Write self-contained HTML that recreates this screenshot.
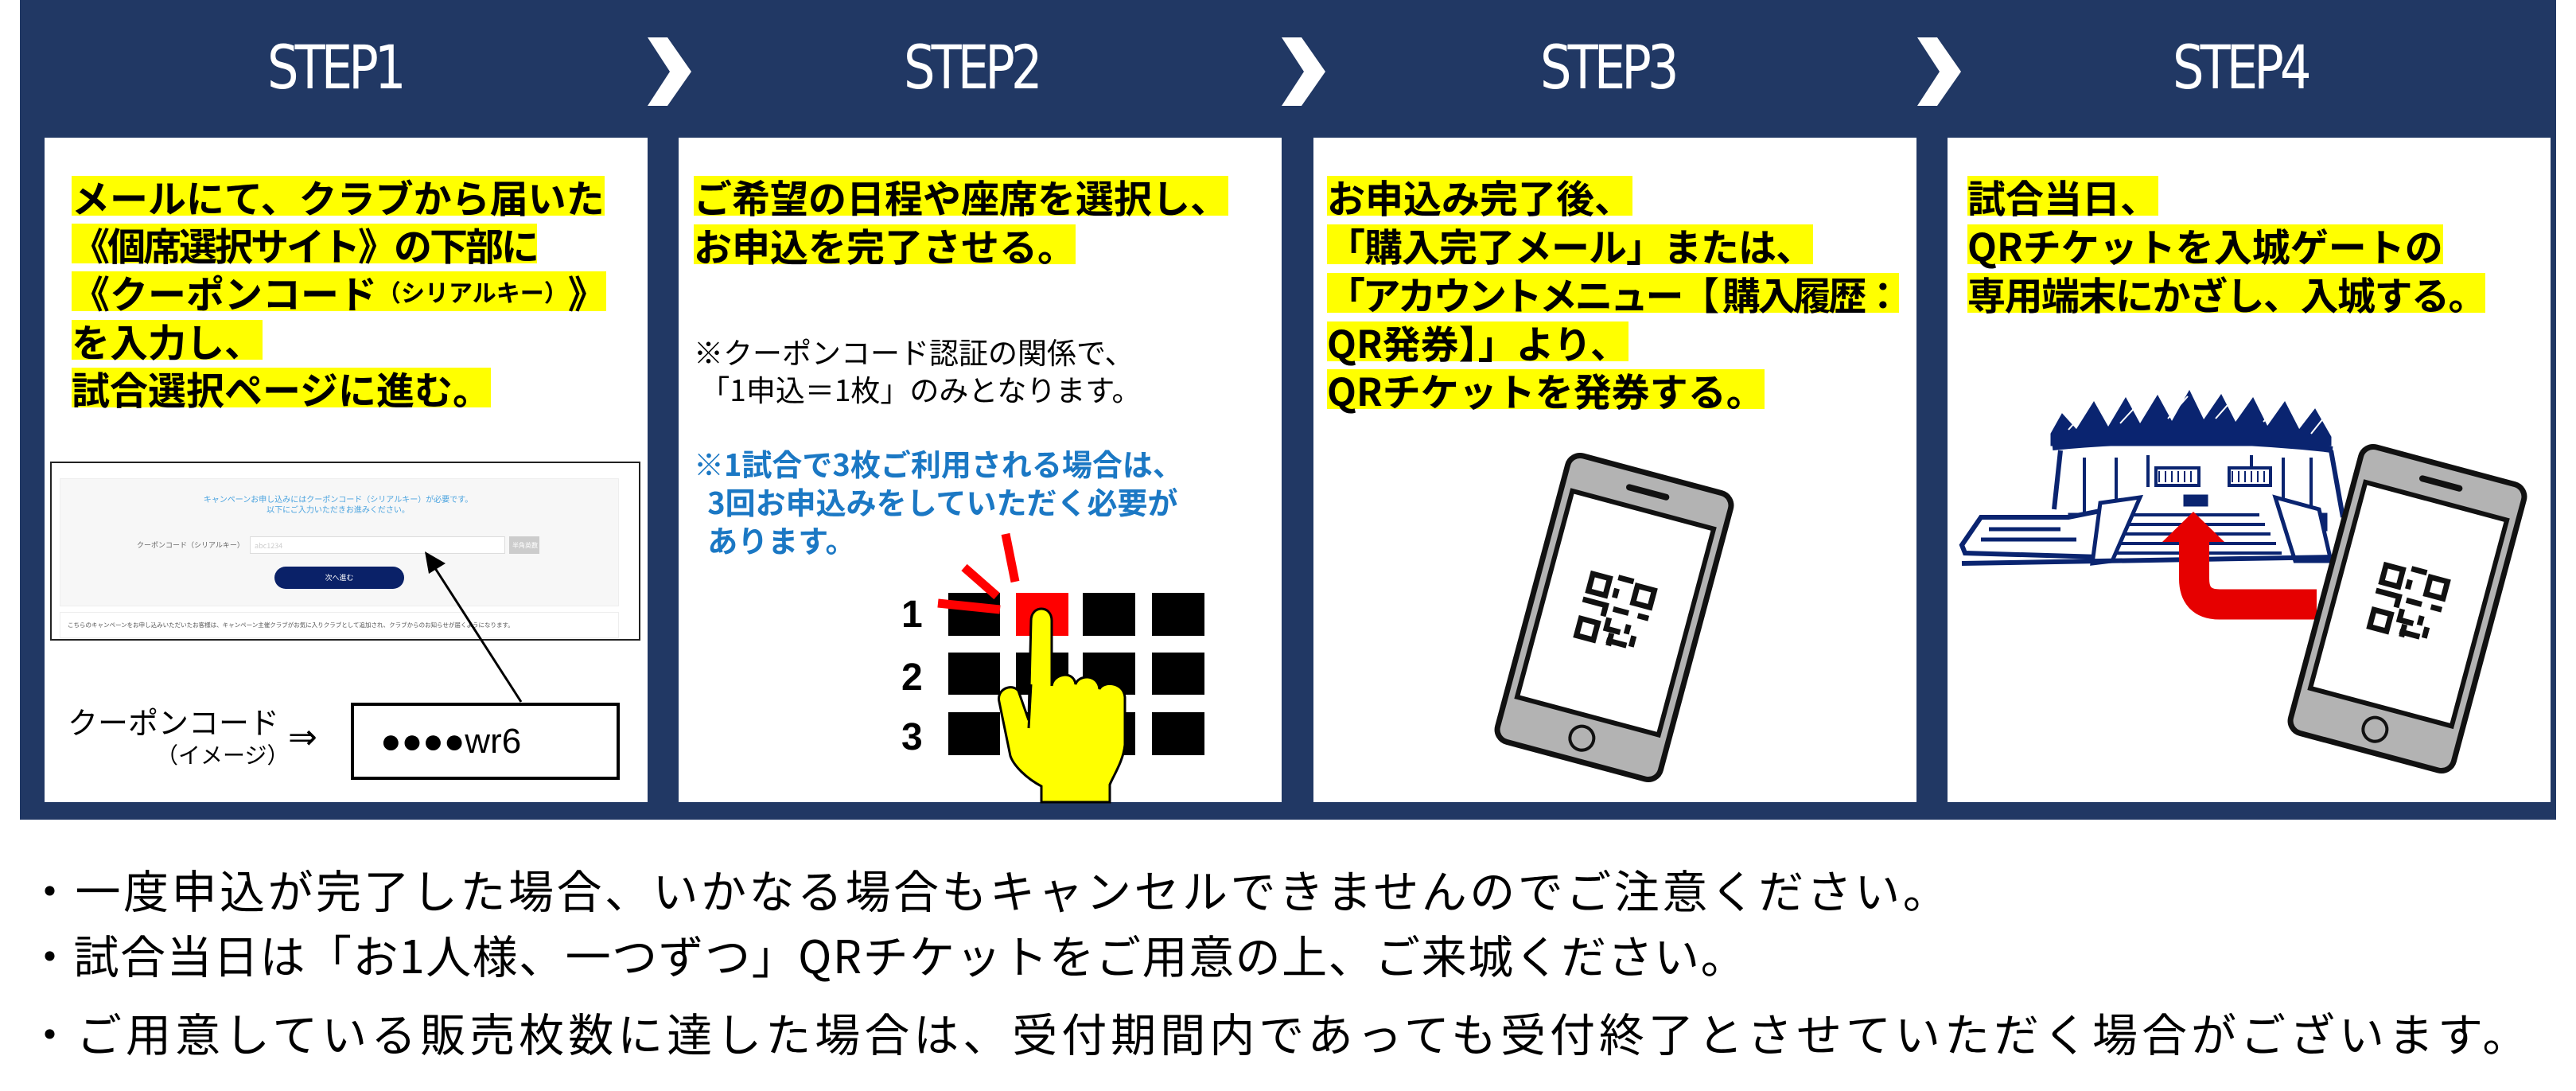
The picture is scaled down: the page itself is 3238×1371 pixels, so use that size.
<!DOCTYPE html>
<html><head><meta charset="utf-8">
<style>
*{margin:0;padding:0;box-sizing:border-box}
html,body{width:3238px;height:1371px;overflow:hidden;background:#fff}
body{position:relative;font-family:"Liberation Sans","Noto Sans CJK JP",sans-serif}
.navy{position:absolute;left:25px;top:0;width:3188px;height:1030px;background:#213864}
.panel{position:absolute;top:173px;width:758px;height:835px;background:#fff}
.step{position:absolute;top:40px;color:#fff;font-family:"DejaVu Sans","Liberation Sans",sans-serif;font-size:76px;letter-spacing:-6px;line-height:90px;transform:scaleX(0.82);transform-origin:left center}
.hl{position:absolute;height:50px;line-height:50px;font-size:48px;font-weight:bold;color:#000;font-family:"Noto Sans CJK JP",sans-serif;white-space:nowrap}
.hl span{background:#ffff00;display:inline-block;height:50px}
.t{position:absolute;white-space:nowrap;font-family:"Noto Sans CJK JP",sans-serif}
.bul{position:absolute;left:34px;font-size:57px;line-height:70px;color:#000;white-space:nowrap;font-family:"Noto Sans CJK JP",sans-serif}
</style></head><body>
<div class="navy"></div>
<div class="panel" style="left:56px"></div>
<div class="panel" style="left:853px"></div>
<div class="panel" style="left:1651px"></div>
<div class="panel" style="left:2448px"></div>

<div class="step" style="left:336px">STEP1</div>
<div class="step" style="left:1136px">STEP2</div>
<div class="step" style="left:1936px">STEP3</div>
<div class="step" style="left:2731px">STEP4</div>

<svg style="position:absolute;left:0;top:0" width="3238" height="1371">
<g fill="#fff">
<polygon points="814,47 839,47 869,90 839,133 814,133 842,90"/>
<polygon points="1611,47 1636,47 1666,90 1636,133 1611,133 1639,90"/>
<polygon points="2410,47 2435,47 2465,90 2435,133 2410,133 2438,90"/>
</g>
</svg>

<!-- STEP1 text -->
<div class="hl" style="left:90px;top:221px"><span>メールにて、クラブから届いた</span></div>
<div class="hl" style="left:90px;top:281px"><span style="letter-spacing:-3px">《個席選択サイト》の下部に</span></div>
<div class="hl" style="left:90px;top:341px"><span>《クーポンコード<span style="font-size:30px;vertical-align:top"> （シリアルキー）</span>》</span></div>
<div class="hl" style="left:90px;top:402px"><span>を入力し、</span></div>
<div class="hl" style="left:90px;top:462px"><span>試合選択ページに進む。</span></div>

<!-- screenshot mock -->
<div style="position:absolute;left:63px;top:580px;width:742px;height:225px;border:2px solid #222;background:#fff"></div>
<div style="position:absolute;left:75px;top:601px;width:703px;height:161px;background:#f7f7f7;border:1px solid #eee"></div>
<div style="position:absolute;left:75px;top:769px;width:703px;height:33px;background:#fff;border:1px solid #eee"></div>
<div class="t" style="left:180px;top:620px;width:490px;text-align:center;font-size:10px;line-height:13px;color:#4aa3df">キャンペーンお申し込みにはクーポンコード（シリアルキー）が必要です。<br>以下にご入力いただきお進みください。</div>
<div class="t" style="left:172px;top:678px;font-size:9px;color:#666">クーポンコード（シリアルキー）</div>
<div style="position:absolute;left:314px;top:674px;width:321px;height:22px;background:#fff;border:1px solid #ddd"></div>
<div class="t" style="left:320px;top:679px;font-size:9px;color:#ccc">abc1234</div>
<div style="position:absolute;left:640px;top:674px;width:38px;height:22px;background:#ccc"></div>
<div class="t" style="left:644px;top:680px;font-size:8px;color:#fff">半角英数</div>
<div style="position:absolute;left:345px;top:712px;width:163px;height:28px;background:#0a2168;border-radius:14px"></div>
<div class="t" style="left:345px;top:719px;width:163px;text-align:center;font-size:9px;color:#fff">次へ進む</div>
<div class="t" style="left:85px;top:780px;font-size:7.5px;color:#555">こちらのキャンペーンをお申し込みいただいたお客様は、キャンペーン主催クラブがお気に入りクラブとして追加され、クラブからのお知らせが届くようになります。</div>

<div style="position:absolute;left:441px;top:883px;width:338px;height:97px;border:4px solid #000;background:#fff"></div>
<div class="t" style="left:478px;top:905px;font-family:'Liberation Sans',sans-serif;font-size:44px;line-height:54px;color:#000">●●●●wr6</div>
<div class="t" style="left:85px;top:884px;font-size:38px;line-height:44px;color:#000">クーポンコード</div>
<div class="t" style="left:196px;top:930px;font-size:28px;line-height:36px;color:#000">（イメージ）</div>
<div class="t" style="left:362px;top:902px;font-size:44px;line-height:50px;color:#000;font-family:'DejaVu Sans',sans-serif">⇒</div>

<!-- STEP2 -->
<div class="hl" style="left:872px;top:221px"><span>ご希望の日程や座席を選択し、</span></div>
<div class="hl" style="left:872px;top:282px"><span>お申込を完了させる。</span></div>
<div class="t" style="left:872px;top:418px;font-size:37px;line-height:47px;color:#000">※クーポンコード認証の関係で、<br>&nbsp;「1申込＝1枚」のみとなります。</div>
<div class="t" style="left:872px;top:558px;font-size:38px;line-height:48px;color:#1b78c4;font-weight:bold">※1試合で3枚ご利用される場合は、<br>&nbsp;&nbsp;3回お申込みをしていただく必要が<br>&nbsp;&nbsp;あります。</div>

<!-- STEP3 -->
<div class="hl" style="left:1668px;top:221px"><span>お申込み完了後、</span></div>
<div class="hl" style="left:1668px;top:282px"><span style="letter-spacing:-1px">「購入完了メール」または、</span></div>
<div class="hl" style="left:1668px;top:343px"><span style="letter-spacing:-3.5px">「アカウントメニュー【 購入履歴：</span></div>
<div class="hl" style="left:1668px;top:404px"><span>QR発券】」より、</span></div>
<div class="hl" style="left:1668px;top:464px"><span>QRチケットを発券する。</span></div>

<!-- STEP4 -->
<div class="hl" style="left:2473px;top:221px"><span>試合当日、</span></div>
<div class="hl" style="left:2473px;top:282px"><span>QRチケットを入城ゲートの</span></div>
<div class="hl" style="left:2473px;top:343px"><span style="letter-spacing:-1.5px">専用端末にかざし、入城する。</span></div>

<svg style="position:absolute;left:0;top:0" width="3238" height="1371">
<defs>
<g id="phone">
<rect x="-106" y="-186" width="212" height="372" rx="16" fill="#b3b3b3" stroke="#111" stroke-width="7"/>
<rect x="-92" y="-140" width="184" height="268" fill="#fff" stroke="#111" stroke-width="6"/>
<line x1="-24" y1="-163" x2="24" y2="-163" stroke="#111" stroke-width="8" stroke-linecap="round"/>
<circle cx="0" cy="157" r="15" fill="none" stroke="#111" stroke-width="4"/>
<g transform="translate(0,-6)" fill="none" stroke="#111" stroke-width="7">
<rect x="-40" y="-40" width="22" height="22"/>
<rect x="18" y="-40" width="22" height="22"/>
<rect x="-40" y="18" width="22" height="22"/>
<path d="M-8,-44 h20 M-6,-30 v12 M-44,-6 h30 v14 M-4,-4 h20 M28,-4 h14 M-6,8 v14 h18 M20,10 v12 M-2,36 h26 M30,22 v14 M2,26 v16"/>
</g>
</g>
</defs>

<!-- arrow step1 -->
<line x1="655" y1="882" x2="545" y2="711" stroke="#000" stroke-width="3"/>
<polygon points="534,693 560,708 539,721" fill="#000"/>

<!-- grid step2 -->
<g font-family="Liberation Sans,sans-serif" font-weight="bold" font-size="48" fill="#000">
<text x="1133" y="788">1</text><text x="1133" y="867">2</text><text x="1133" y="942">3</text>
</g>
<g fill="#000">
<rect x="1192" y="745" width="65" height="54"/><rect x="1277" y="745" width="66" height="54" fill="#f00"/><rect x="1361" y="745" width="66" height="54"/><rect x="1448" y="745" width="66" height="54"/>
<rect x="1192" y="820" width="65" height="53"/><rect x="1277" y="820" width="66" height="53"/><rect x="1361" y="820" width="66" height="53"/><rect x="1448" y="820" width="66" height="53"/>
<rect x="1192" y="895" width="65" height="54"/><rect x="1277" y="895" width="66" height="54"/><rect x="1361" y="895" width="66" height="54"/><rect x="1448" y="895" width="66" height="54"/>
</g>
<g stroke="#f00" stroke-width="11">
<line x1="1179" y1="758" x2="1257" y2="766"/>
<line x1="1212" y1="713" x2="1253" y2="749"/>
<line x1="1264" y1="671" x2="1276" y2="731"/>
</g>
<path d="M1309,1008 L1309,988 C1290,978 1274,962 1270,950 L1256,882 C1252,866 1272,858 1280,868 L1293,905 L1296,780 C1296,760 1322,760 1322,780 L1322,862 C1324,846 1350,842 1352,860 C1355,848 1380,846 1382,866 C1386,856 1412,856 1414,876 L1414,936 C1412,956 1400,974 1395,986 L1395,1008 Z" fill="#ffff00" stroke="#000" stroke-width="3"/>
<line x1="1296" y1="860" x2="1293" y2="915" stroke="#000" stroke-width="3"/>

<!-- step3 phone -->
<use href="#phone" transform="translate(2029,776) rotate(15)"/>

<!-- stadium -->
<g fill="#0a2470" stroke="#0a2470">
<polygon points="2578,545 2592,520 2610,540 2632,505 2650,537 2672,500 2690,533 2712,497 2730,530 2752,491 2770,528 2792,496 2810,531 2832,500 2850,536 2872,505 2890,540 2910,514 2930,549 2930,560 2578,560"/>
<path d="M2600,540 L2625,512 M2665,532 L2690,505 M2725,526 L2750,498 M2785,526 L2808,500 M2845,530 L2868,508 M2905,545 L2925,520" stroke="#fff" stroke-width="2" fill="none"/>
<path d="M2580,562 Q2755,545 2932,565" fill="none" stroke-width="8"/>
<path d="M2590,566 L2582,640 M2930,566 L2945,650" fill="none" stroke-width="6"/>
<path d="M2620,575 v75 M2660,575 v60 M2700,572 v40 M2830,572 v40 M2870,575 v60 M2905,575 v70" fill="none" stroke-width="4"/>
<rect x="2710" y="588" width="54" height="22" fill="#fff" stroke-width="4"/>
<rect x="2802" y="588" width="52" height="22" fill="#fff" stroke-width="4"/>
<path d="M2714,592 v14 M2722,592 v14 M2730,592 v14 M2738,592 v14 M2746,592 v14 M2754,592 v14 M2806,592 v14 M2814,592 v14 M2822,592 v14 M2830,592 v14 M2838,592 v14 M2846,592 v14" stroke-width="2"/>
<rect x="2600" y="645" width="22" height="22"/>
<rect x="2895" y="645" width="30" height="22"/>
<rect x="2745" y="622" width="30" height="14"/>
<polygon points="2466,685 2490,650 2600,650 2650,640 2640,700 2470,695" fill="#fff" stroke-width="6"/>
<path d="M2500,665 h90 M2490,678 h120" fill="none" stroke-width="5"/>
<path d="M2680,647 h160 M2672,659 h175 M2664,671 h190 M2656,683 h205 M2648,695 h220" fill="none" stroke-width="4"/>
<polygon points="2640,632 2690,625 2655,705 2630,708" fill="#fff" stroke-width="5"/>
<polygon points="2860,625 2915,640 2930,705 2885,705" fill="#fff" stroke-width="5"/>
<path d="M2466,708 L2935,700" fill="none" stroke-width="6"/>
</g>
<!-- red arrow -->
<path d="M2912,759.5 L2790,759.5 Q2758,759.5 2758,727 L2758,678" fill="none" stroke="#e60000" stroke-width="38"/>
<polygon points="2718,681 2757,643 2796,681" fill="#e60000"/>
<!-- step4 phone -->
<use href="#phone" transform="translate(3026,765) rotate(15)"/>
</svg>

<div class="bul" style="top:1082px;letter-spacing:3.5px">・一度申込が完了した場合、いかなる場合もキャンセルできませんのでご注意ください。</div>
<div class="bul" style="top:1164px;letter-spacing:1.5px">・試合当日は「お1人様、一つずつ」QRチケットをご用意の上、ご来城ください。</div>
<div class="bul" style="top:1262px;letter-spacing:5px">・ご用意している販売枚数に達した場合は、受付期間内であっても受付終了とさせていただく場合がございます。</div>
</body></html>
